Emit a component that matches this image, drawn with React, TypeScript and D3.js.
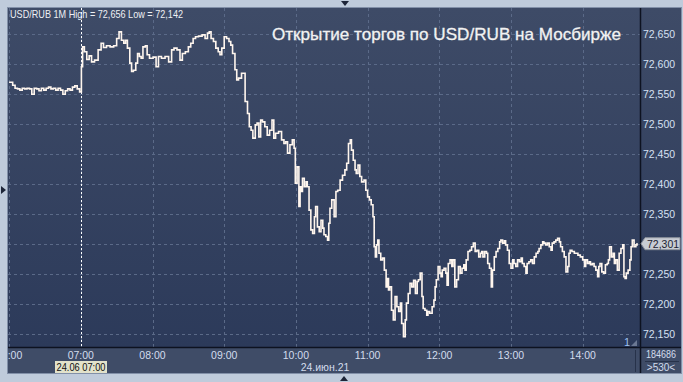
import React from 'react';
import * as d3 from 'd3';

const hourLabels = ['06:00', '07:00', '08:00', '09:00', '10:00', '11:00', '12:00', '13:00', '14:00'];
const priceTicks = [72150, 72200, 72250, 72300, 72350, 72400, 72450, 72500, 72550, 72600, 72650];

// minutes since 06:00
const minutes = [
  0, 2, 4, 6, 8, 10, 12, 14, 16, 18, 20, 22, 24, 26, 28, 30, 32, 34, 36, 38, 40, 42, 44, 46, 48, 50, 52, 54, 56, 58, 60,
  61, 62, 64, 66, 68, 70, 73, 76, 78, 80, 83, 86, 89, 91, 93, 95, 97, 98, 100, 102, 103, 105, 107, 108, 110, 111, 113, 115, 116,
  119, 122, 124, 126, 129, 132, 135, 137, 139, 142, 144, 146, 149, 151, 153, 155, 157, 160, 163, 165, 167, 168, 170, 172, 174,
  176, 177, 179, 181, 183, 185, 186, 188, 190, 191, 193, 196,
  199, 200, 202, 203, 205, 207, 208, 210, 211, 213, 215, 217, 219, 221, 222, 224, 227, 229, 231, 232, 234, 236, 238, 239, 240,
  242, 243, 244, 245, 246, 248, 249, 250, 252, 253, 255, 256, 257, 259, 260, 262, 263, 264, 266, 267, 268, 269, 271, 273, 274,
  276, 278, 280, 282, 283, 285, 286, 287, 289, 290, 291, 293, 294, 296, 298, 299, 301, 302, 304, 305, 306, 307, 308, 309, 310,
  312, 313, 315, 316, 317, 318, 319, 321, 322, 324, 325, 327, 328, 329, 331, 332, 333, 335, 336, 338, 339, 341, 342, 343, 345,
  346, 347, 349, 350, 351, 353, 355, 356, 357, 358, 360, 361, 362, 363, 365, 366, 367, 368, 370, 371, 372, 374, 375, 377, 378,
  380, 381, 382, 383, 385, 386, 388, 389, 391, 392, 394, 395, 396, 397, 399, 400, 401, 403, 404, 405, 407, 408, 410, 411, 412,
  414, 415, 416, 418, 419, 421, 422, 423, 425, 426, 428, 429, 430, 432, 433, 434, 436, 437, 439, 440, 442, 443, 444, 446, 447,
  448, 450, 451, 453, 454, 455, 457, 458, 460, 461, 462, 464, 465, 467, 468, 469, 470, 472, 474, 475, 477, 479, 481, 482, 483,
  485, 486, 487, 489, 490, 492, 493, 494, 495, 497, 498, 500, 501, 502, 503, 505, 506, 507, 508, 510, 511, 513, 514, 515, 516,
  517, 519, 520, 521, 522, 524, 525, 526,
];

const prices = [
  72570, 72570, 72565, 72560, 72559, 72557, 72560, 72559, 72560, 72559, 72550, 72560, 72559, 72556, 72560, 72557, 72560, 72562,
  72559, 72560, 72557, 72560, 72557, 72550, 72556, 72559, 72557, 72562, 72564, 72559, 72554,
  72596, 72629, 72621, 72608, 72614, 72604, 72607, 72624, 72635, 72628, 72631, 72629, 72631, 72643, 72654, 72640, 72635, 72640,
  72627, 72602, 72588, 72590, 72602, 72618, 72613, 72610, 72629, 72631, 72616,
  72610, 72612, 72596, 72613, 72610, 72613, 72604, 72624, 72627, 72624, 72607, 72618, 72621, 72629, 72635, 72643, 72646, 72647,
  72649, 72643, 72652, 72654, 72643, 72638, 72627,
  72621, 72616, 72627, 72646, 72643, 72638, 72632, 72618, 72591, 72574, 72577, 72585,
  72538, 72518, 72496, 72490, 72477, 72499, 72502, 72479, 72507, 72504, 72496, 72482, 72490, 72507, 72477, 72485, 72488, 72474,
  72468, 72471, 72452, 72466, 72474, 72460, 72402,
  72429, 72363, 72396, 72388, 72410, 72396, 72404, 72396, 72357, 72324, 72318, 72346, 72363, 72329, 72321, 72340, 72327, 72316,
  72313, 72307, 72335, 72360, 72374, 72346, 72388,
  72390, 72407, 72415, 72424, 72435, 72468, 72474, 72457, 72440, 72424, 72418, 72432, 72413, 72404, 72407, 72390, 72379, 72374,
  72366, 72346, 72296, 72279, 72299, 72307, 72285,
  72274, 72277, 72257, 72229, 72243, 72224, 72229, 72190, 72174, 72213, 72196, 72188, 72202, 72168, 72146, 72174, 72202, 72218,
  72235, 72229, 72240, 72218, 72238, 72241, 72252,
  72213, 72193, 72190, 72182, 72188, 72185, 72196, 72207, 72229, 72241, 72263, 72252, 72246, 72257, 72260, 72252, 72232, 72268,
  72274, 72263, 72274, 72229, 72241, 72263, 72252,
  72260, 72266, 72257, 72274, 72288, 72290, 72296, 72302, 72288, 72290, 72279, 72285, 72288, 72279, 72288, 72285, 72268, 72260,
  72229, 72257, 72279, 72288, 72293, 72304, 72307,
  72302, 72306, 72299, 72290, 72268, 72260, 72274, 72268, 72263, 72274, 72271, 72277, 72268, 72263, 72252, 72268, 72271, 72274,
  72268, 72279, 72285, 72288, 72293, 72299, 72304,
  72302, 72299, 72302, 72296, 72290, 72302, 72304, 72307, 72310, 72304, 72296, 72288, 72279, 72254, 72263, 72285, 72290, 72288,
  72285, 72285, 72282, 72279, 72274, 72263, 72274,
  72268, 72271, 72266, 72268, 72263, 72257, 72246, 72263, 72268, 72254, 72252, 72266, 72268, 72274, 72296, 72279, 72285, 72268,
  72274, 72257, 72285, 72293, 72299, 72246, 72243,
  72252, 72257, 72274, 72296, 72307, 72296, 72299, 72301,
];

const headerText = 'USD/RUB 1M High = 72,656 Low = 72,142';
const titleText = 'Открытие торгов по USD/RUB на Мосбирже';
const lastPrice = 72301;
const dateLabel = '24.июн.21';
const cursorLabel = '24.06 07:00';
const cursorMinute = 60;
const barCount = '184686';
const barsShown = '>530<';
const pageLabel = '1';

export default function App() {
  const W = 683;
  const H = 382;
  const L = 8, T = 8, R = 640, B = 347;
  const x = d3.scaleLinear().domain([0, 60]).range([9.1, 80.8]);
  const y = d3.scaleLinear().domain([72150, 72650]).range([334.3, 34.3]);
  const fmt = d3.format(',');
  const pts: [number, number][] = minutes.map((m, i) => [m, prices[i]]);
  const line = d3
    .line<[number, number]>()
    .x((d) => x(d[0]))
    .y((d) => y(d[1]))
    .curve(d3.curveStep);
  const font = '"Liberation Sans", Arial, sans-serif';
  const yLast = y(lastPrice);
  const visibleTicks = priceTicks.filter((p) => Math.abs(y(p) - yLast) > 9);

  return (
    <svg width={W} height={H} style={{ position: 'absolute', left: 0, top: 0, display: 'block' }} fontFamily={font}>
      <defs>
        <linearGradient id="bg" x1="0" y1="0" x2="0" y2="1">
          <stop offset="0" stopColor="#3e4b67" />
          <stop offset="1" stopColor="#2c3a5a" />
        </linearGradient>
        <clipPath id="plotClip">
          <rect x={L} y={T} width={R - L} height={B - T} />
        </clipPath>
        <clipPath id="axisClip">
          <rect x={L} y={B} width={R - L} height={373 - B} />
        </clipPath>
      </defs>
      <rect x={0} y={0} width={W} height={H} fill="#bfcbdb" />
      <rect x={7} y={7} width={675} height={367} fill="#8290a8" />
      <rect x={L} y={T} width={673} height={B - T} fill="url(#bg)" />
      <rect x={L} y={B} width={673} height={373 - B} fill="#3f4c67" />

      {/* grid */}
      <g stroke="#5b6a88" strokeWidth={1} strokeDasharray="3,3">
        {priceTicks.map((p) => (
          <line key={p} x1={L} x2={R} y1={Math.round(y(p)) + 0.5} y2={Math.round(y(p)) + 0.5} />
        ))}
        {hourLabels.map((h, i) => (
          <line key={h} x1={Math.round(x(i * 60)) + 0.5} x2={Math.round(x(i * 60)) + 0.5} y1={T} y2={B} />
        ))}
      </g>

      {/* cursor line */}
      <line
        x1={Math.round(x(cursorMinute)) + 0.5}
        x2={Math.round(x(cursorMinute)) + 0.5}
        y1={T}
        y2={B}
        stroke="#ffffff"
        strokeWidth={1}
        strokeDasharray="2,2"
      />

      {/* price line */}
      <g clipPath="url(#plotClip)">
        <path d={line(pts) || ''} fill="none" stroke="#fff6ee" strokeWidth={1.6} strokeLinejoin="miter" />
      </g>

      {/* borders */}
      <line x1={L} x2={681} y1={B + 0.5} y2={B + 0.5} stroke="#0d1220" strokeWidth={1.5} />
      <line x1={R + 0.5} x2={R + 0.5} y1={T} y2={373} stroke="#0d1220" strokeWidth={1.5} />
      <line x1={635.5} x2={635.5} y1={350} y2={372} stroke="#27324a" strokeWidth={1} />
      <line x1={645} x2={679} y1={361.5} y2={361.5} stroke="#27324a" strokeWidth={1} />

      {/* header texts */}
      <text x={10} y={18} fontSize={11.5} fill="#eef0f4" textLength={173} lengthAdjust="spacingAndGlyphs">
        {headerText}
      </text>
      <text
        x={272}
        y={40}
        fontSize={17}
        fill="#f2f2f2"
        stroke="#f2f2f2"
        strokeWidth={0.3}
        textLength={349}
        lengthAdjust="spacingAndGlyphs"
      >
        {titleText}
      </text>

      {/* right axis */}
      {visibleTicks.map((p) => (
        <text key={p} x={643} y={y(p) + 4} fontSize={10.5} fill="#d6e0f2">
          {fmt(p)}
        </text>
      ))}
      <path
        d={`M${R + 1},${yLast} L${645},${yLast - 6} L680,${yLast - 6} L680,${yLast + 6} L645,${yLast + 6} Z`}
        fill="#c8ccd3"
        stroke="#8c929c"
      />
      <text x={647} y={yLast + 4} fontSize={10.5} fill="#1c2230">
        {fmt(lastPrice)}
      </text>

      {/* bottom axis */}
      <g clipPath="url(#axisClip)">
        {hourLabels.map((h, i) => (
          <text key={h} x={x(i * 60)} y={359} fontSize={10.5} fill="#d3dced" textAnchor="middle">
            {h}
          </text>
        ))}
      </g>
      <text x={325} y={371} fontSize={10.5} fill="#d3dced" textAnchor="middle">
        {dateLabel}
      </text>
      <rect x={55} y={361} width={52} height={12} fill="#e2e2cb" />
      <text x={81} y={371} fontSize={10.5} fill="#111" textAnchor="middle" textLength={49} lengthAdjust="spacingAndGlyphs">
        {cursorLabel}
      </text>
      <text x={661} y={358} fontSize={10} fill="#d3dced" textAnchor="middle" textLength={30} lengthAdjust="spacingAndGlyphs">
        {barCount}
      </text>
      <text x={661} y={371} fontSize={10} fill="#d3dced" textAnchor="middle">
        {barsShown}
      </text>

      <text x={624} y={346} fontSize={11} fill="#9cc0f0">
        {pageLabel}
      </text>
      <path d="M631,346 L637,346 L637,340 Z" fill="#6b7893" />

      {/* scroll markers */}
      <path d="M341,1 L349,1 L345,6 Z" fill="#1d2538" />
      <path d="M1,186 L6,190 L1,194 Z" fill="#1d2538" />
      <path d="M340,381 L348,381 L344,376 Z" fill="#1d2538" />
    </svg>
  );
}
